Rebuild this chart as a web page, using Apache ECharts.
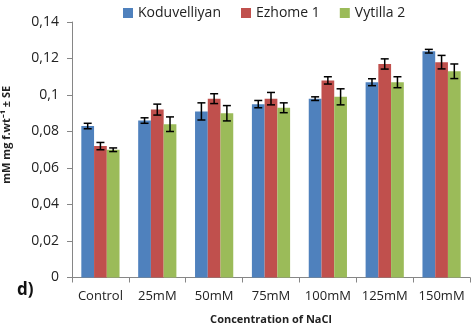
<!DOCTYPE html>
<html>
<head>
<meta charset="utf-8">
<script src="https://cdn.jsdelivr.net/npm/echarts@6/dist/echarts.min.js"></script>
<style>
  html, body { margin: 0; padding: 0; background: #fff; }
  #main { width: 471px; height: 330px; }
</style>
</head>
<body>
<div id="main"></div>
<script>
// 浓度分类
const categories = ["Control", "25mM", "50mM", "75mM", "100mM", "125mM", "150mM"];
const seriesNames = ["Koduvelliyan", "Ezhome 1", "Vytilla 2"];

// 各品种均值
const koduvelliyan = [0.083, 0.086, 0.091, 0.095, 0.098, 0.107, 0.124];
const ezhome1 = [0.072, 0.092, 0.098, 0.098, 0.108, 0.117, 0.118];
const vytilla2 = [0.070, 0.084, 0.090, 0.093, 0.099, 0.107, 0.113];

// 标准误
const koduvelliyanSE = [0.0015, 0.0015, 0.0047, 0.002, 0.001, 0.0019, 0.001];
const ezhome1SE = [0.002, 0.003, 0.0027, 0.0034, 0.002, 0.0028, 0.0037];
const vytilla2SE = [0.001, 0.004, 0.0042, 0.0027, 0.0044, 0.003, 0.004];

const yTicks = [0, 0.02, 0.04, 0.06, 0.08, 0.1, 0.12, 0.14];

const colors = ["#4F81BD", "#C0504D", "#9BBB59"];
const means = [koduvelliyan, ezhome1, vytilla2];
const errors = [koduvelliyanSE, ezhome1SE, vytilla2SE];
const BAR_RATIO = 0.224;
const FONT = "Open Sans";

const chart = echarts.init(document.getElementById("main"));

// 误差线
function errorSeries(idx) {
  const data = means[idx].map((v, i) => [i, v - errors[idx][i], v + errors[idx][i]]);
  return {
    type: "custom",
    name: seriesNames[idx] + " SE",
    z: 10,
    data: data,
    renderItem(params, api) {
      const band = api.size([1, 0])[0];
      const offset = (idx - 1) * band * BAR_RATIO;
      const lo = api.coord([api.value(0), api.value(1)]);
      const hi = api.coord([api.value(0), api.value(2)]);
      const x = lo[0] + offset;
      const cap = 4;
      const style = { stroke: "#000", lineWidth: 1.5 };
      return {
        type: "group",
        children: [
          { type: "line", shape: { x1: x, y1: lo[1], x2: x, y2: hi[1] }, style },
          { type: "line", shape: { x1: x - cap, y1: lo[1], x2: x + cap, y2: lo[1] }, style },
          { type: "line", shape: { x1: x - cap, y1: hi[1], x2: x + cap, y2: hi[1] }, style },
        ],
      };
    },
  };
}

const barSeries = means.map((arr, idx) => ({
  name: seriesNames[idx],
  type: "bar",
  data: arr,
  barWidth: BAR_RATIO * 100 + "%",
  barGap: "0%",
  itemStyle: { color: colors[idx] },
}));

const option = {
  animation: false,
  backgroundColor: "#fff",
  color: colors,
  legend: {
    data: seriesNames,
    top: 1,
    left: 118,
    icon: "rect",
    itemWidth: 10,
    itemHeight: 10,
    itemGap: 20,
    textStyle: { fontFamily: FONT, fontSize: 14, color: "#222" },
  },
  grid: { left: 72, right: 1, top: 22, bottom: 52.5, outerBoundsMode: "none" },
  xAxis: {
    type: "category",
    data: categories,
    name: "Concentration of NaCl",
    nameLocation: "middle",
    nameGap: 37,
    nameTextStyle: { fontFamily: FONT, fontSize: 11, fontWeight: "bold", color: "#222" },
    axisLine: { lineStyle: { color: "#868686" } },
    axisTick: { show: true, length: 5, lineStyle: { color: "#868686" } },
    axisLabel: { fontFamily: FONT, fontSize: 13, color: "#222", margin: 12, interval: 0 },
  },
  yAxis: {
    type: "value",
    min: 0,
    max: 0.14,
    interval: 0.02,
    name: "mM mg f.wt⁻¹ ± SE",
    nameLocation: "middle",
    nameGap: 60,
    nameTextStyle: {
      fontFamily: FONT,
      fontSize: 11,
      fontWeight: "bold",
      color: "#222",
      padding: [0, 0, 0, 30],
    },
    axisLine: { show: true, lineStyle: { color: "#868686" } },
    axisTick: { show: true, length: 5, lineStyle: { color: "#868686" } },
    splitLine: { show: false },
    axisLabel: {
      fontFamily: FONT,
      fontSize: 14,
      color: "#222",
      margin: 13,
      formatter: (v) => {
        const t = yTicks.find((k) => Math.abs(k - v) < 1e-9);
        return String(t !== undefined ? t : v).replace(".", ",");
      },
    },
  },
  graphic: [
    {
      type: "text",
      left: 17,
      top: 282,
      style: { text: "d)", font: "bold 17px " + FONT, fill: "#111" },
    },
  ],
  series: [...barSeries, errorSeries(0), errorSeries(1), errorSeries(2)],
};

chart.setOption(option);
</script>
</body>
</html>
